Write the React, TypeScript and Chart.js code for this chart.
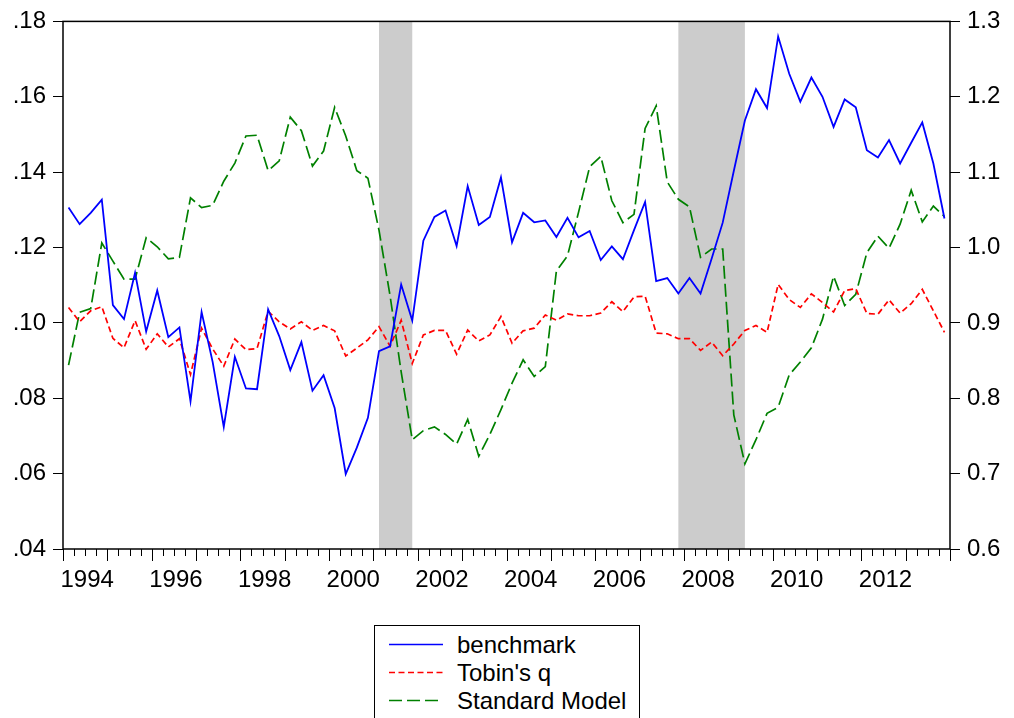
import React, { useEffect, useRef } from "react";
import { Chart, registerables } from "chart.js";

Chart.register(...registerables);

// ---- data (quarterly, 1994Q1 .. 2013Q4) ----
const startYear = 1994;
const quarterLabels: string[] = [];
for (let y = startYear; y <= 2013; y++) for (let q = 1; q <= 4; q++) quarterLabels.push(`${y}Q${q}`);

const benchmark = [
  0.1306, 0.1262, 0.1292, 0.1327, 0.1047, 0.1010, 0.1133, 0.0977,
  0.1086, 0.0962, 0.0988, 0.0792, 0.1029, 0.0896, 0.0724, 0.0910,
  0.0826, 0.0824, 0.1036, 0.0965, 0.0875, 0.0949, 0.0820, 0.0861,
  0.0774, 0.0599, 0.0669, 0.0748, 0.0925, 0.0938, 0.1102, 0.1006,
  0.1218, 0.1281, 0.1298, 0.1204, 0.1363, 0.1260, 0.1281, 0.1386,
  0.1214, 0.1292, 0.1267, 0.1272, 0.1228, 0.1279, 0.1227, 0.1244,
  0.1167, 0.1203, 0.1169, 0.1246, 0.1321, 0.1111, 0.1119, 0.1078,
  0.1119, 0.1078, 0.1170, 0.1266, 0.1403, 0.1537, 0.1620, 0.1570,
  0.1760, 0.1661, 0.1587, 0.1651, 0.1600, 0.1520, 0.1593, 0.1572,
  0.1458, 0.1439, 0.1485, 0.1423, 0.1478, 0.1532, 0.1423, 0.1277,
];

const tobinsQ = [
  0.1041, 0.1003, 0.1032, 0.1043, 0.0959, 0.0934, 0.1006, 0.0930,
  0.0971, 0.0936, 0.0958, 0.0863, 0.0986, 0.0931, 0.0885, 0.0957,
  0.0929, 0.0932, 0.1031, 0.1003, 0.0984, 0.1003, 0.0980, 0.0993,
  0.0979, 0.0912, 0.0933, 0.0955, 0.0990, 0.0938, 0.1007, 0.0892,
  0.0968, 0.0980, 0.0980, 0.0917, 0.0981, 0.0952, 0.0968, 0.1017,
  0.0946, 0.0979, 0.0986, 0.1021, 0.1007, 0.1024, 0.1019, 0.1019,
  0.1026, 0.1056, 0.1030, 0.1069, 0.1071, 0.0973, 0.0971, 0.0958,
  0.0958, 0.0927, 0.0949, 0.0913, 0.0944, 0.0980, 0.0993, 0.0975,
  0.1102, 0.1062, 0.1041, 0.1077, 0.1054, 0.1029, 0.1086, 0.1091,
  0.1025, 0.1023, 0.1061, 0.1026, 0.1051, 0.1089, 0.1032, 0.0975,
];

const standardModel = [
  0.844, 0.914, 0.919, 1.006, 0.982, 0.958, 0.958, 1.013,
  1.001, 0.985, 0.987, 1.066, 1.053, 1.056, 1.088, 1.112,
  1.148, 1.149, 1.102, 1.115, 1.173, 1.155, 1.108, 1.128,
  1.186, 1.148, 1.102, 1.092, 1.023, 0.936, 0.835, 0.745,
  0.757, 0.762, 0.752, 0.739, 0.772, 0.723, 0.752, 0.785,
  0.820, 0.851, 0.829, 0.842, 0.969, 0.989, 1.047, 1.107,
  1.121, 1.062, 1.033, 1.044, 1.158, 1.188, 1.087, 1.064,
  1.054, 0.987, 0.998, 0.998, 0.778, 0.713, 0.745, 0.780,
  0.788, 0.831, 0.848, 0.867, 0.905, 0.962, 0.923, 0.938,
  0.993, 1.015, 0.999, 1.031, 1.076, 1.034, 1.055, 1.041,
];

const leftTicks = [0.04, 0.06, 0.08, 0.1, 0.12, 0.14, 0.16, 0.18];
const rightTicks = [0.6, 0.7, 0.8, 0.9, 1.0, 1.1, 1.2, 1.3];
const yearLabels = [1994, 1996, 1998, 2000, 2002, 2004, 2006, 2008, 2010, 2012];
const recessions: [string, string][] = [
  ["2001Q1", "2001Q4"],
  ["2007Q4", "2009Q2"],
];

const seriesNames = ["benchmark", "Tobin's q", "Standard Model"];
const seriesColors = ["#0000ff", "#ff0000", "#008000"];
const seriesDashes: number[][] = [[], [6, 3.5], [13, 5]];

const FONT = "'Liberation Sans', Arial, Helvetica, sans-serif";

const toPoints = (arr: number[]) => arr.map((v, i) => ({ x: i + 0.5, y: v }));

const shadingPlugin = {
  id: "recessionShading",
  beforeDatasetsDraw(chart: any) {
    const { ctx, chartArea, scales } = chart;
    const xs = scales.x;
    ctx.save();
    ctx.fillStyle = "#cccccc";
    recessions.forEach(([a, b]) => {
      const i0 = quarterLabels.indexOf(a);
      const i1 = quarterLabels.indexOf(b);
      const x0 = xs.getPixelForValue(i0 + 0.5);
      const x1 = xs.getPixelForValue(i1 + 0.5);
      ctx.fillRect(x0, chartArea.top, x1 - x0, chartArea.bottom - chartArea.top);
    });
    ctx.restore();
  },
};

const framePlugin = {
  id: "frameAndTicks",
  afterDraw(chart: any) {
    const { ctx, chartArea, scales } = chart;
    const xs = scales.x;
    ctx.save();
    ctx.strokeStyle = "#000";
    ctx.lineWidth = 1;
    ctx.beginPath();
    for (let v = 0; v <= quarterLabels.length; v++) {
      const x = Math.round(xs.getPixelForValue(v)) + 0.5;
      const len = v % 4 === 0 ? 12 : 7;
      ctx.moveTo(x, chartArea.bottom);
      ctx.lineTo(x, chartArea.bottom + len);
    }
    ctx.stroke();
    ctx.lineWidth = 1.5;
    ctx.strokeRect(
      chartArea.left,
      chartArea.top,
      chartArea.right - chartArea.left,
      chartArea.bottom - chartArea.top
    );
    ctx.restore();
  },
};

function ChartCanvas() {
  const ref = useRef<HTMLCanvasElement | null>(null);
  useEffect(() => {
    if (!ref.current) return;
    Chart.defaults.font.family = FONT;
    Chart.defaults.font.size = 24;
    Chart.defaults.color = "#000";
    const datasetsSrc = [benchmark, tobinsQ, standardModel];
    const chart = new Chart(ref.current, {
      type: "line",
      data: {
        datasets: datasetsSrc.map((arr, k) => ({
          label: seriesNames[k],
          data: toPoints(arr),
          borderColor: seriesColors[k],
          backgroundColor: seriesColors[k],
          borderWidth: k === 0 ? 1.8 : 1.7,
          borderDash: seriesDashes[k],
          pointRadius: 0,
          tension: 0,
          fill: false,
          yAxisID: k === 2 ? "y1" : "y",
        })),
      },
      options: {
        responsive: false,
        animation: false,
        devicePixelRatio: 1,
        layout: { padding: { top: 15, bottom: 109, left: 0, right: 0 } },
        plugins: { legend: { display: false }, tooltip: { enabled: false } },
        scales: {
          x: {
            type: "linear",
            min: 0,
            max: quarterLabels.length,
            grid: { display: false, drawTicks: false },
            border: { display: false },
            afterBuildTicks: (s: any) => {
              const t = [];
              for (let v = 0; v <= quarterLabels.length; v++) t.push({ value: v });
              s.ticks = t;
            },
            afterFit: (s: any) => {
              s.height = 60;
            },
            ticks: {
              autoSkip: false,
              maxRotation: 0,
              minRotation: 0,
              padding: 17,
              labelOffset: 2,
              font: { size: 24, family: FONT },
              color: "#000",
              callback: (v: any) => {
                const n = Number(v);
                if ((n - 2) % 4 !== 0) return "";
                const yr = startYear + (n - 2) / 4;
                return yearLabels.includes(yr) ? String(yr) : "";
              },
            },
          },
          y: {
            position: "left",
            min: leftTicks[0],
            max: leftTicks[leftTicks.length - 1],
            afterBuildTicks: (s: any) => {
              s.ticks = leftTicks.map((v) => ({ value: v }));
            },
            afterFit: (s: any) => {
              s.width = 63;
            },
            grid: {
              drawOnChartArea: false,
              drawTicks: true,
              tickLength: 10,
              color: "#000",
              tickColor: "#000",
              lineWidth: 1,
            },
            border: { display: false },
            ticks: {
              padding: 7,
              font: { size: 24, family: FONT },
              color: "#000",
              callback: (v: any) => Number(v).toFixed(2).replace(/^0/, ""),
            },
          },
          y1: {
            position: "right",
            min: rightTicks[0],
            max: rightTicks[rightTicks.length - 1],
            afterBuildTicks: (s: any) => {
              s.ticks = rightTicks.map((v) => ({ value: v }));
            },
            afterFit: (s: any) => {
              s.width = 64;
            },
            grid: {
              drawOnChartArea: false,
              drawTicks: true,
              tickLength: 10,
              color: "#000",
              tickColor: "#000",
              lineWidth: 1,
            },
            border: { display: false },
            ticks: {
              padding: 7,
              font: { size: 24, family: FONT },
              color: "#000",
              callback: (v: any) => Number(v).toFixed(1),
            },
          },
        },
      },
      plugins: [shadingPlugin, framePlugin],
    } as any);
    return () => chart.destroy();
  }, []);
  return <canvas ref={ref} width={1014} height={718} style={{ display: "block" }} />;
}

function Legend() {
  return (
    <div
      style={{
        position: "absolute",
        left: 374,
        top: 625,
        width: 266,
        height: 130,
        boxSizing: "border-box",
        border: "1px solid #000",
        background: "#fff",
        fontFamily: FONT,
        fontSize: 24,
        lineHeight: "28px",
        color: "#000",
      }}
    >
      {seriesNames.map((name, k) => (
        <div key={name} style={{ position: "absolute", left: 0, top: 5 + 28 * k, height: 28, width: 260 }}>
          <svg width={54} height={28} style={{ position: "absolute", left: 14, top: 0 }}>
            <line
              x1={0}
              y1={13.5}
              x2={54}
              y2={13.5}
              stroke={seriesColors[k]}
              strokeWidth={1.7}
              strokeDasharray={seriesDashes[k].length ? seriesDashes[k].join(" ") : undefined}
            />
          </svg>
          <span style={{ position: "absolute", left: 82, top: 0, whiteSpace: "nowrap" }}>{name}</span>
        </div>
      ))}
    </div>
  );
}

export default function App() {
  return (
    <div
      style={{
        position: "absolute",
        left: 0,
        top: 0,
        width: 1014,
        height: 718,
        overflow: "hidden",
        background: "#fff",
      }}
    >
      <ChartCanvas />
      <Legend />
    </div>
  );
}
